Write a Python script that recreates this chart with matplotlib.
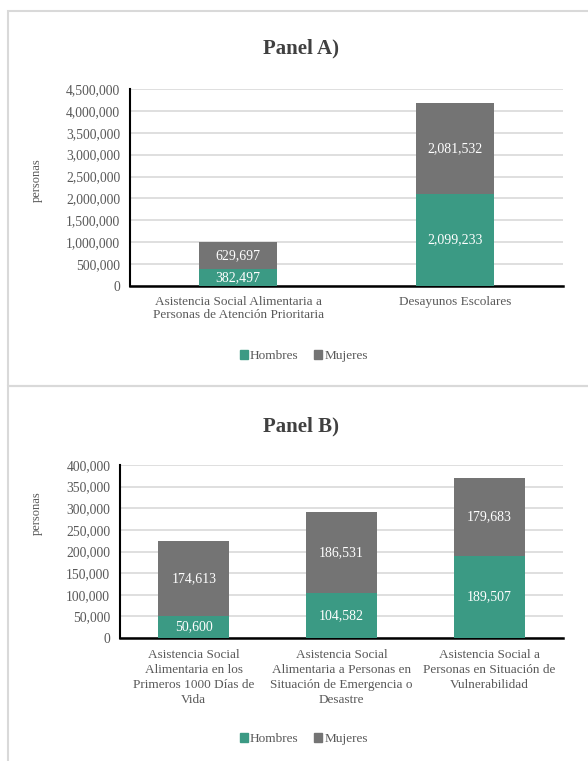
import matplotlib.pyplot as plt
from matplotlib.patches import Rectangle, Patch
from matplotlib.ticker import FuncFormatter

# Panel A data
cats_a = ['Asistencia Social Alimentaria a\nPersonas de Atención Prioritaria',
          'Desayunos Escolares']
hombres_a = [382497, 2099233]
mujeres_a = [629697, 2081532]

# Panel B data
cats_b = ['Asistencia Social\nAlimentaria en los\nPrimeros 1000 Días de\nVida',
          'Asistencia Social\nAlimentaria a Personas en\nSituación de Emergencia o\nDesastre',
          'Asistencia Social a\nPersonas en Situación de\nVulnerabilidad']
hombres_b = [50600, 104582, 189507]
mujeres_b = [174613, 186531, 179683]

GREEN = '#3b9a84'
GRAY = '#747474'
TXT = '#595959'

plt.rcParams['font.family'] = ['Liberation Serif', 'DejaVu Serif']

W, H = 588, 761
fig = plt.figure(figsize=(W / 100, H / 100), dpi=100)


def fx(px):
    return px / W


def fy(py):
    return 1 - py / H


# light gray panel frames
for top, bot in [(11, 386), (386, 775)]:
    fig.patches.append(Rectangle((fx(8), fy(bot)), fx(600) - fx(8), fy(top) - fy(bot),
                                 transform=fig.transFigure, fill=False,
                                 edgecolor='#d9d9d9', linewidth=1.5))


def panel(ax, cats, h, m, ymax, step, width, title, title_y, ylab_y, leg_y, lsp, xpad):
    x = range(len(cats))
    b1 = ax.bar(x, h, width=width, color=GREEN, zorder=3)
    b2 = ax.bar(x, m, width=width, bottom=h, color=GRAY, zorder=3)
    for bars, vals, base in [(b1, h, [0] * len(h)), (b2, m, h)]:
        for i, v in enumerate(vals):
            ax.text(i, base[i] + v / 2, f'{v:,}', ha='center', va='center',
                    color='white', fontsize=10, zorder=4)
    ax.set_ylim(0, ymax)
    ax.set_xlim(-0.5, len(cats) - 0.5)
    ax.set_yticks(range(0, ymax + 1, step))
    ax.yaxis.set_major_formatter(FuncFormatter(lambda v, p: f'{int(v):,}'))
    ax.set_xticks(list(x))
    ax.set_xticklabels(cats, fontsize=9.5, color=TXT, linespacing=lsp)
    ax.tick_params(axis='y', labelsize=9.8, labelcolor=TXT, length=0, pad=7)
    ax.tick_params(axis='x', length=0, pad=xpad)
    ax.grid(axis='y', color='#d9d9d9', linewidth=1.2, zorder=0)
    for s in ['top', 'right']:
        ax.spines[s].set_visible(False)
    ax.spines['left'].set_linewidth(1.5)
    ax.spines['bottom'].set_linewidth(1.8)
    fig.text(fx(301), fy(title_y), title, ha='center', va='center',
             fontsize=15, fontweight='bold', color='#404040')
    fig.text(fx(37), fy(ylab_y), 'personas', rotation=90, ha='center',
             va='center', fontsize=9, color=TXT)
    handles = [Patch(color=GREEN, label='Hombres'), Patch(color=GRAY, label='Mujeres')]
    fig.legend(handles=handles, loc='center', bbox_to_anchor=(fx(304), fy(leg_y)),
               ncol=2, frameon=False, fontsize=9.5, handlelength=0.6,
               handleheight=0.6, handletextpad=0.15, columnspacing=1.2,
               labelcolor=TXT)


ax_a = fig.add_axes([fx(130), fy(286), fx(563) - fx(130), fy(89) - fy(286)])
panel(ax_a, cats_a, hombres_a, mujeres_a, 4500000, 500000, 0.36,
      'Panel A)', 48, 180, 356, 1.12, 7)

ax_b = fig.add_axes([fx(120), fy(638), fx(563) - fx(120), fy(465) - fy(638)])
panel(ax_b, cats_b, hombres_b, mujeres_b, 400000, 50000, 0.48,
      'Panel B)', 426, 513, 739, 1.32, 8)

fig.savefig('out.png', dpi=100)
